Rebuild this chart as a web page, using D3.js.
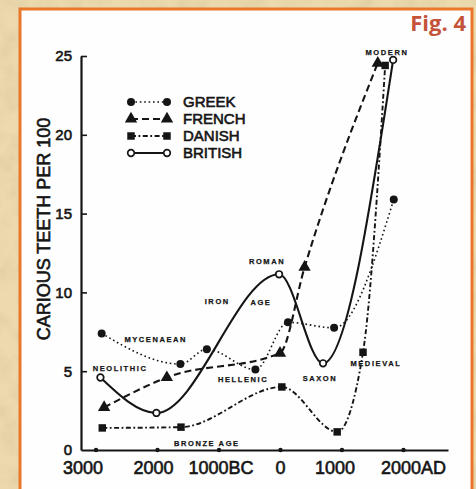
<!DOCTYPE html>
<html>
<head>
<meta charset="utf-8">
<script src="https://cdn.jsdelivr.net/npm/d3@7"></script>
<style>
  body { margin: 0; background: #e8d5a6; }
  svg { display: block; }
</style>
</head>
<body>
<div id="chart"></div>
<script>
// values (year, carious teeth per 100)
var greekYears = [-2900, -1620, -1190, -400, 130, 880, 1850];
var greekValues = [7.4, 5.45, 6.4, 5.1, 8.1, 7.75, 15.9];
var frenchYears = [-2860, -1840, 0, 400, 1590];
var frenchValues = [2.7, 4.6, 6.15, 11.6, 24.55];
var danishYears = [-2890, -1610, 30, 930, 1350, 1710];
var danishValues = [1.4, 1.45, 4.0, 1.15, 6.2, 24.4];
var britishYears = [-2920, -2010, -15, 700, 1840];
var britishValues = [4.6, 2.35, 11.15, 5.5, 24.75];

var seriesNames = ["GREEK", "FRENCH", "DANISH", "BRITISH"];

var xTickValues = [-3000, -2000, -1000, 0, 1000, 2000];
var xTickLabels = ["3000", "2000", "1000BC", "0", "1000", "2000AD"];
var xLabelShift = [-13, -4, 2, 0, -7, 10]; // the scan's labels sit a little off their ticks
var yTickValues = [0, 5, 10, 15, 20, 25];

// period annotations written on the plot
var periodNames = ["MODERN", "ROMAN", "IRON", "AGE", "MYCENAEAN", "NEOLITHIC", "HELLENIC", "SAXON", "MEDIEVAL", "BRONZE AGE"];
var periodYears = [1740, -210, -1020, -310, -2020, -2600, -600, 650, 1560, -1190];
var periodValues = [25.25, 11.95, 9.4, 9.35, 7.0, 5.2, 4.45, 4.55, 5.5, 0.45];

var width = 476, height = 489;
var font = "'Liberation Sans', Arial, sans-serif";
var ink = "#151515";

var svg = d3.select("#chart").append("svg")
  .attr("width", width)
  .attr("height", height);

// paper texture behind the panel
var defs = svg.append("defs");
var f = defs.append("filter").attr("id", "paper")
  .attr("x", 0).attr("y", 0).attr("width", "100%").attr("height", "100%");
f.append("feTurbulence").attr("type", "fractalNoise")
  .attr("baseFrequency", "0.045").attr("numOctaves", 4).attr("seed", 7);
f.append("feColorMatrix").attr("type", "matrix")
  .attr("values", "0 0 0 0 0.70  0 0 0 0 0.55  0 0 0 0 0.33  1.1 0 0 0 -0.42");

svg.append("rect").attr("width", width).attr("height", height).attr("fill", "#ecdaae");
svg.append("rect").attr("width", width).attr("height", height).attr("filter", "url(#paper)");

// white panel with orange frame
svg.append("rect")
  .attr("x", 20).attr("y", 9)
  .attr("width", 452).attr("height", 500)
  .attr("fill", "#fefefe")
  .attr("stroke", "#e8772c")
  .attr("stroke-width", 3);

svg.append("text")
  .attr("x", 466).attr("y", 31)
  .attr("text-anchor", "end")
  .attr("font-family", "'Open Sans', sans-serif")
  .attr("font-weight", 700)
  .attr("font-size", 22)
  .attr("fill", "#c4533a")
  .text("Fig. 4");

// scales
var x = d3.scaleLinear().domain([-3236, 2732]).range([81, 448]);
var y = d3.scaleLinear().domain([0, 25]).range([450, 56]);

// heavier text, like the scan
function inked(sel, w) {
  sel.attr("fill", ink).attr("stroke", ink).attr("stroke-width", w);
}

// y axis
var yAxis = svg.append("g")
  .attr("transform", "translate(81,0)")
  .call(d3.axisLeft(y).tickValues(yTickValues).tickSizeInner(-6).tickSizeOuter(0).tickPadding(9));
yAxis.select(".domain").attr("stroke", ink).attr("stroke-width", 2.2);
yAxis.selectAll(".tick line").attr("stroke", ink).attr("stroke-width", 1.6);
yAxis.selectAll(".tick").filter(function(d) { return d === 0; }).select("line").remove();
yAxis.selectAll(".tick text")
  .attr("font-family", font).attr("font-size", 15).call(inked, 0.6);

// x axis
var xAxis = svg.append("g")
  .attr("transform", "translate(0,450)")
  .call(d3.axisBottom(x).tickValues(xTickValues).tickSize(0).tickPadding(11)
    .tickFormat(function(d, i) { return xTickLabels[i]; }));
xAxis.select(".domain").attr("stroke", ink).attr("stroke-width", 2.2);
xAxis.selectAll(".tick").append("circle").attr("r", 2.2).attr("fill", ink);
xAxis.selectAll(".tick text")
  .attr("dx", function(d, i) { return xLabelShift[i]; })
  .attr("font-family", font).attr("font-size", 18).call(inked, 0.6);

// y title
svg.append("text")
  .attr("transform", "translate(50,229) rotate(-90)")
  .attr("text-anchor", "middle")
  .attr("font-family", font)
  .attr("font-size", 18)
  .call(inked, 0.6)
  .text("CARIOUS TEETH PER 100");

// series
var series = [
  { name: seriesNames[0], years: greekYears, values: greekValues, dash: "1.6,2.8", width: 1.6, marker: "dot" },
  { name: seriesNames[1], years: frenchYears, values: frenchValues, dash: "7,4", width: 2.1, marker: "triangle" },
  { name: seriesNames[2], years: danishYears, values: danishValues, dash: "5,2.5,1.8,2.5", width: 1.9, marker: "square" },
  { name: seriesNames[3], years: britishYears, values: britishValues, dash: null, width: 2.1, marker: "ring" }
];

var line = d3.line()
  .x(function(d) { return x(d[0]); })
  .y(function(d) { return y(d[1]); })
  .curve(d3.curveMonotoneX);

function drawMarker(g, kind, cx, cy) {
  if (kind === "dot") {
    g.append("circle").attr("cx", cx).attr("cy", cy).attr("r", 4).attr("fill", ink);
  } else if (kind === "ring") {
    g.append("circle").attr("cx", cx).attr("cy", cy).attr("r", 3.3)
      .attr("fill", "#fff").attr("stroke", ink).attr("stroke-width", 1.7);
  } else {
    var sym = kind === "triangle" ? d3.symbolTriangle : d3.symbolSquare;
    g.append("path")
      .attr("transform", "translate(" + cx + "," + cy + ")")
      .attr("d", d3.symbol().type(sym).size(kind === "triangle" ? 66 : 56)())
      .attr("fill", ink);
  }
}

var plot = svg.append("g");
series.forEach(function(s) {
  var pts = s.years.map(function(yr, i) { return [yr, s.values[i]]; });
  plot.append("path")
    .attr("d", line(pts))
    .attr("fill", "none")
    .attr("stroke", ink)
    .attr("stroke-width", s.width)
    .attr("stroke-dasharray", s.dash);
  pts.forEach(function(p) { drawMarker(plot, s.marker, x(p[0]), y(p[1])); });
});

// period labels
periodNames.forEach(function(name, i) {
  svg.append("text")
    .attr("x", x(periodYears[i]))
    .attr("y", y(periodValues[i]))
    .attr("dy", "0.35em")
    .attr("text-anchor", "middle")
    .attr("font-family", font)
    .attr("font-weight", 700)
    .attr("font-size", 7.5)
    .attr("letter-spacing", 1.6)
    .call(inked, 0.25)
    .text(name);
});

// legend
var legend = svg.append("g").attr("transform", "translate(131,102)");
series.forEach(function(s, i) {
  var row = legend.append("g").attr("transform", "translate(0," + (i * 17) + ")");
  row.append("line")
    .attr("x1", 0).attr("x2", 36)
    .attr("stroke", ink).attr("stroke-width", s.width)
    .attr("stroke-dasharray", s.dash);
  drawMarker(row, s.marker, 0, 0);
  drawMarker(row, s.marker, 36, 0);
  row.append("text")
    .attr("x", 52).attr("dy", "0.36em")
    .attr("font-family", font)
    .attr("font-size", 15)
    .call(inked, 0.6)
    .text(s.name);
});
</script>
</body>
</html>
